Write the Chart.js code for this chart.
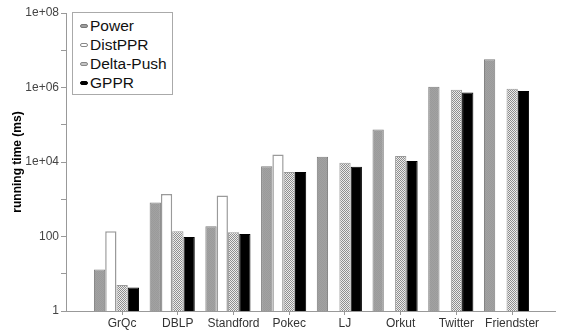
<!DOCTYPE html>
<html>
<head>
<meta charset="utf-8">
<script src="https://cdn.jsdelivr.net/npm/chart.js@4/dist/chart.umd.min.js"></script>
<style>
  body { margin: 0; background: #fff; }
  #wrap { position: relative; width: 562px; height: 334px; }
  #legend {
    position: absolute; left: 72px; top: 12px; width: 101px; height: 83px;
    border: 1px solid #aaa; background: #fff; box-sizing: border-box;
    font-family: "Liberation Sans", Arial, sans-serif; font-size: 15.5px; color: #111;
    padding-top: 3px;
  }
  #legend div { height: 19px; line-height: 19px; white-space: nowrap; }
  #legend span { display: inline-block; width: 8px; height: 4px; border-radius: 2px;
    margin: 0 2px 0 7px; vertical-align: middle; position: relative; top: -1px; box-sizing: border-box; }
</style>
</head>
<body>
<div id="wrap">
  <canvas id="c" width="562" height="334"></canvas>
  <div id="legend"></div>
</div>
<script>
// datasets / categories
const graphs = ['GrQc', 'DBLP', 'Standford', 'Pokec', 'LJ', 'Orkut', 'Twitter', 'Friendster'];
const power = [13, 815, 188, 7700, 13800, 75000, 1050000, 5700000];
const distPPR = [138, 1380, 1260, 15800, null, null, null, null];
const deltaPush = [5, 138, 130, 5400, 9500, 14600, 870000, 930000];
const gppr = [4.3, 97, 117, 5400, 7500, 10700, 730000, 810000];
const yTicks = [1, 10, 100, 1e3, 1e4, 1e5, 1e6, 1e7, 1e8];

function makePattern(draw, size) {
  const cv = document.createElement('canvas');
  cv.width = size; cv.height = size;
  draw(cv.getContext('2d'));
  return cv.getContext('2d').createPattern(cv, 'repeat');
}
const grayTex = makePattern(g => {
  g.fillStyle = '#a2a2a2'; g.fillRect(0, 0, 2, 2);
  g.fillStyle = '#9a9a9a'; g.fillRect(0, 0, 1, 1); g.fillRect(1, 1, 1, 1);
}, 2);
const checkTex = makePattern(g => {
  g.fillStyle = '#ececec'; g.fillRect(0, 0, 2, 2);
  g.fillStyle = '#8e8e8e'; g.fillRect(0, 0, 1, 1); g.fillRect(1, 1, 1, 1);
}, 2);

const pts = arr => arr.map((v, i) => ({ x: i, y: v }));

const series = [
  { label: 'Power', data: pts(power), backgroundColor: grayTex, borderColor: '#7c7c7c', borderWidth: 1, sw: '#9e9e9e', sb: '#777' },
  { label: 'DistPPR', data: pts(distPPR), backgroundColor: '#fff', borderColor: '#9a9a9a', borderWidth: 1.5, sw: '#fff', sb: '#888' },
  { label: 'Delta-Push', data: pts(deltaPush), backgroundColor: checkTex, borderColor: '#9a9a9a', borderWidth: 1, sw: '#c4c4c4', sb: '#888' },
  { label: 'GPPR', data: pts(gppr), backgroundColor: '#000', borderColor: '#000', borderWidth: 1, sw: '#000', sb: '#000' }
];

const legend = document.getElementById('legend');
series.forEach(s => {
  const row = document.createElement('div');
  row.innerHTML = '<span style="background:' + s.sw + ';border:1px solid ' + s.sb + '"></span>' + s.label;
  legend.appendChild(row);
});

function fmt(v) {
  const e = Math.round(Math.log10(v));
  if (e % 2) return '';
  if (e <= 2) return String(Math.pow(10, e));
  return '1e+' + (e < 10 ? '0' + e : e);
}

new Chart(document.getElementById('c'), {
  type: 'bar',
  data: { datasets: series },
  options: {
    responsive: false,
    animation: false,
    layout: { padding: { top: 13, right: 7, bottom: 0, left: 0 } },
    categoryPercentage: 0.81,
    barPercentage: 1,
    plugins: { legend: { display: false }, tooltip: { enabled: false } },
    scales: {
      x: {
        type: 'linear',
        offset: false,
        min: -0.906,
        max: 7.87,
        afterBuildTicks: s => { s.ticks = graphs.map((g, i) => ({ value: i + 0.1 })); },
        afterFit: s => { s.height = 23; },
        ticks: {
          callback: (v, i) => graphs[i],
          color: '#333',
          padding: 1,
          maxRotation: 0,
          autoSkip: false,
          font: { family: 'Liberation Sans', size: 12 }
        },
        grid: { offset: false, drawOnChartArea: false, drawTicks: true, tickLength: 4, color: '#999' },
        border: { color: '#999' }
      },
      y: {
        type: 'logarithmic',
        min: 1,
        max: 1e8,
        afterBuildTicks: s => { s.ticks = yTicks.map(v => ({ value: v })); },
        afterFit: s => { s.width = 66; },
        ticks: {
          callback: v => fmt(v),
          color: '#444',
          padding: 2,
          autoSkip: false,
          font: { family: 'Liberation Sans', size: 12 }
        },
        grid: { drawOnChartArea: false, drawTicks: true, tickLength: 5, color: '#999' },
        border: { color: '#999' },
        title: {
          display: true,
          text: 'running time (ms)',
          color: '#000',
          padding: { top: 10, bottom: 0 },
          font: { family: 'Liberation Sans', size: 12, weight: 'bold' }
        }
      }
    }
  }
});
</script>
</body>
</html>
